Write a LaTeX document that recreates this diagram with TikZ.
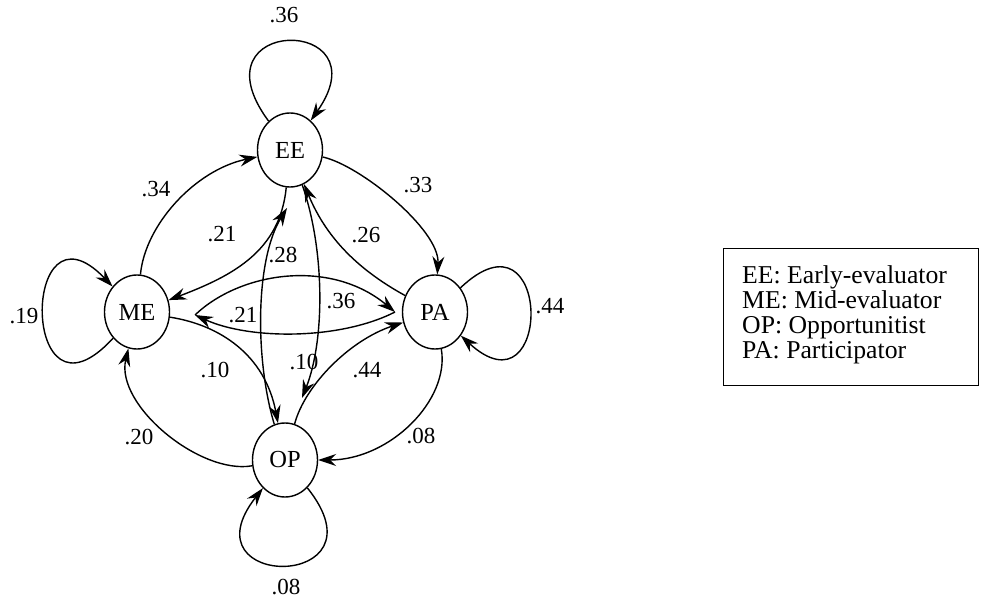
\documentclass[tikz,border=0pt]{standalone}
\usepackage{fontspec}
\setmainfont{Liberation Serif}
\usetikzlibrary{arrows.meta,shapes.geometric}
\begin{document}
\begin{tikzpicture}[x=1pt,y=-1pt,
  state/.style={ellipse, draw, line width=1.4pt, minimum width=65pt,
    minimum height=74pt, inner sep=0pt, font=\fontsize{24.5}{24.5}\selectfont},
  edge/.style={line width=1.4pt, -{Stealth[length=18pt,width=12pt,inset=6pt]}},
  prob/.style={inner sep=0pt, font=\fontsize{23}{23}\selectfont},
  key/.style={anchor=base west, inner sep=0pt, font=\fontsize{25.7}{25}\selectfont}]
  % canvas
  \fill[white] (0,0) rectangle (981,607);
  \useasboundingbox (0,0) rectangle (981,607);

  % states
  \node[state] (EE) at (290,150) {EE};
  \node[state] (ME) at (137,312) {ME};
  \node[state] (PA) at (435,312) {PA};
  \node[state] (OP) at (285,460) {OP};

  % meeting points of the two lens-shaped pairs of arcs
  \coordinate (meTip) at (195,315);
  \coordinate (paTip) at (395,312);
  \coordinate (eeIn) at (287,208);
  \coordinate (opIn) at (302,398);

  % self-loops
  \draw[edge] (EE) .. controls (190,15) and (385,15) .. (EE);
  \draw[edge] (ME) .. controls (20,440) and (20,190) .. (ME);
  \draw[edge] (PA) .. controls (553,200) and (553,420) .. (PA);
  \draw[edge] (OP) .. controls (390,591) and (182,591) .. (OP);

  % transitions
  \draw[edge] (ME) .. controls (145,225) and (195,170) .. (EE);
  \draw[edge] (EE) .. controls (360,165) and (440,230) .. (PA);
  \draw[edge] (PA) .. controls (355,268) and (325,235) .. (EE);
  \draw[edge] (EE) .. controls (280,250) and (235,275) .. (ME);
  \draw[edge] (OP) .. controls (255,360) and (255,260) .. (eeIn);
  \draw[edge] (EE) .. controls (325,250) and (325,340) .. (opIn);
  \draw[edge] (meTip) .. controls (240,272) and (330,258) .. (paTip);
  \draw[edge] (paTip) .. controls (340,340) and (250,340) .. (meTip);
  \draw[edge] (ME) .. controls (220,325) and (265,355) .. (OP);
  \draw[edge] (OP) .. controls (305,385) and (350,340) .. (PA);
  \draw[edge] (PA) .. controls (450,400) and (390,460) .. (OP);
  \draw[edge] (OP) .. controls (200,475) and (115,405) .. (ME);

  % transition probabilities
  \node[prob] (pEEEE) at (284,15) {.36};
  \node[prob] (pEEPA) at (418,185) {.33};
  \node[prob] (pMEEE) at (156,189) {.34};
  \node[prob] (pEEME) at (222,234) {.21};
  \node[prob] (pOPEE) at (283,255) {.28};
  \node[prob] (pPAEE) at (366,235) {.26};
  \node[prob] (pMEPA) at (341,301) {.36};
  \node[prob] (pPAME) at (243,315) {.21};
  \node[prob] (pMEME) at (24,316) {.19};
  \node[prob] (pPAPA) at (550,306) {.44};
  \node[prob] (pMEOP) at (215,370) {.10};
  \node[prob] (pEEOP) at (304,362) {.10};
  \node[prob] (pOPPA) at (367,370) {.44};
  \node[prob] (pPAOP) at (421,436) {.08};
  \node[prob] (pOPOP) at (286,587) {.08};
  \node[prob] (pOPME) at (139,437) {.20};

  % key
  \node[draw, line width=1.3pt, minimum width=255pt, minimum height=137pt,
    inner sep=0pt, anchor=north west] (legend) at (723,248) {};
  \node[key] (k1) at (742,283) {EE: Early-evaluator};
  \node[key] (k2) at (742,308) {ME: Mid-evaluator};
  \node[key] (k3) at (742,333) {OP: Opportunitist};
  \node[key] (k4) at (742,358) {PA: Participator};
\end{tikzpicture}
\end{document}
